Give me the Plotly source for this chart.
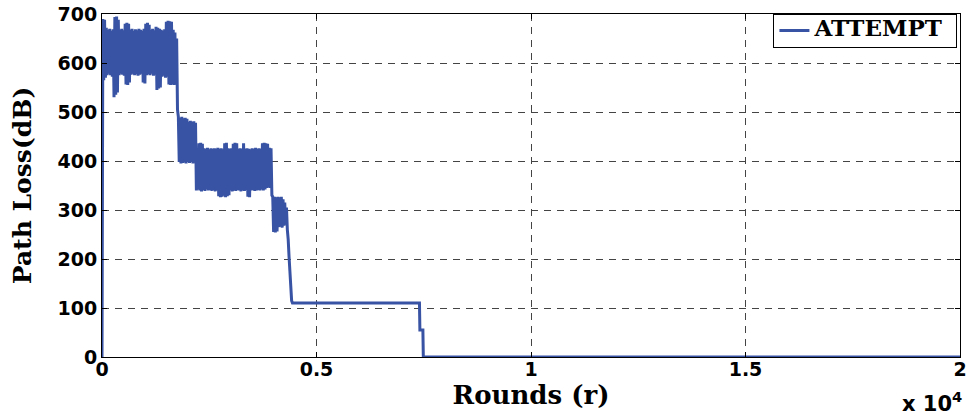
import plotly.graph_objects as go

# Path loss samples, one every 20 rounds from round 0 (noisy phase)
sample_step = 20
noisy_loss = [
    0,
    # rounds 20-1760: high band around 570-690 dB
    690, 565, 688, 570, 672, 575, 668, 578, 670, 575,
    666, 572, 669, 530, 694, 535, 695, 540, 688, 575,
    668, 578, 670, 576, 667, 574, 680, 556, 682, 555,
    680, 560, 668, 576, 670, 578, 666, 575, 669, 577,
    667, 574, 670, 576, 668, 578, 666, 560, 670, 558,
    680, 575, 682, 577, 678, 575, 668, 578, 670, 574,
    667, 576, 674, 545, 672, 548, 670, 550, 668, 572,
    666, 574, 669, 570, 684, 572, 686, 556, 685, 555,
    684, 556, 668, 555, 662, 556, 650, 505,
    # rounds 1780-2200: short plateau near 400-490 dB
    490, 398, 488, 395, 490, 396, 487, 397, 488, 395,
    486, 398, 480, 396, 482, 398, 480, 395, 481, 397,
    478, 340,
    # rounds 2220-3960: band around 330-435 dB
    426, 342, 436, 340, 437, 338, 435, 341, 426, 339,
    425, 342, 427, 340, 424, 341, 426, 339, 425, 340,
    426, 338, 425, 340, 427, 328, 425, 326, 426, 327,
    424, 329, 436, 326, 437, 328, 426, 330, 425, 340,
    426, 338, 435, 340, 437, 339, 436, 341, 425, 340,
    426, 338, 425, 340, 436, 339, 425, 341, 426, 327,
    425, 326, 424, 340, 426, 341, 425, 339, 427, 340,
    425, 341, 426, 340, 425, 342, 436, 340, 437, 342,
    436, 345, 435, 346, 427, 345, 426, 330,
    # rounds 3980-4320: band around 255-327 dB
    327, 255, 327, 254, 326, 256, 327, 265, 326, 266,
    327, 264, 322, 268, 315, 270, 305, 260,
    # rounds 4340-4440: fall to the 110 dB floor
    240, 205, 175, 145, 115, 110,
]
noisy_rounds = list(range(0, sample_step * len(noisy_loss), sample_step))

# Stable phase: breakpoints of the step-down tail
tail_rounds = [7400, 7410, 7480, 7490, 20000]
tail_loss = [110, 55, 55, 0, 0]

rounds = noisy_rounds + tail_rounds
path_loss = noisy_loss + tail_loss

x_tick_vals = [0, 5000, 10000, 15000, 20000]
x_tick_text = ["0", "0.5", "1", "1.5", "2"]
y_tick_vals = [0, 100, 200, 300, 400, 500, 600, 700]

series_name = "ATTEMPT"
line_color = "rgb(57,83,164)"
serif = "DejaVu Serif"
sans = "DejaVu Sans"

fig = go.Figure()
fig.add_trace(go.Scatter(
    x=rounds, y=path_loss, mode="lines",
    name="<span style='font-size:23px'>" + series_name + "&nbsp;</span>",
    line=dict(color=line_color, width=3, simplify=False),
))

axis_common = dict(
    showline=True, linecolor="black", linewidth=1, mirror="ticks",
    ticks="inside", ticklen=5, tickcolor="black",
    showgrid=True, gridcolor="#444444", gridwidth=1, griddash="7px,6px",
    zeroline=False, automargin=False,
    tickfont=dict(family=sans, size=19, color="black", weight="bold"),
)

fig.update_xaxes(
    range=[0, 20000], tickvals=x_tick_vals, ticktext=x_tick_text,
    ticklabelstandoff=-5,
    title=dict(text="Rounds (r)", standoff=5,
               font=dict(family=serif, size=26, color="black", weight="bold")),
    **axis_common,
)
fig.update_yaxes(
    range=[0, 700], tickvals=y_tick_vals,
    title=dict(text="Path Loss(dB)", standoff=18,
               font=dict(family=serif, size=25, color="black", weight="bold")),
    **axis_common,
)

fig.update_layout(
    width=971, height=418, autosize=False,
    margin=dict(l=102, r=11, t=14, b=61),
    paper_bgcolor="white", plot_bgcolor="white",
    showlegend=True,
    legend=dict(
        x=0.997, y=1.0, xanchor="right", yanchor="top",
        bgcolor="white", bordercolor="black", borderwidth=1,
        font=dict(family=serif, size=14, color="black", weight="bold"),
        itemwidth=30, tracegroupgap=0,
    ),
    annotations=[
        dict(text="x 10<sup>4</sup>", xref="paper", yref="paper",
             x=1, y=-0.178, xanchor="right", yanchor="bottom", xshift=4,
             showarrow=False,
             font=dict(family=sans, size=21, color="black", weight="bold")),
        dict(text="Figure 4: Network Path Loss in ATTEMPT", xref="paper", yref="paper",
             x=0.464, y=-0.163, xanchor="center", yanchor="top",
             showarrow=False,
             font=dict(family="Liberation Serif", size=15, color="#b8b8b8", weight="bold")),
    ],
)

fig.write_html("out.html")
